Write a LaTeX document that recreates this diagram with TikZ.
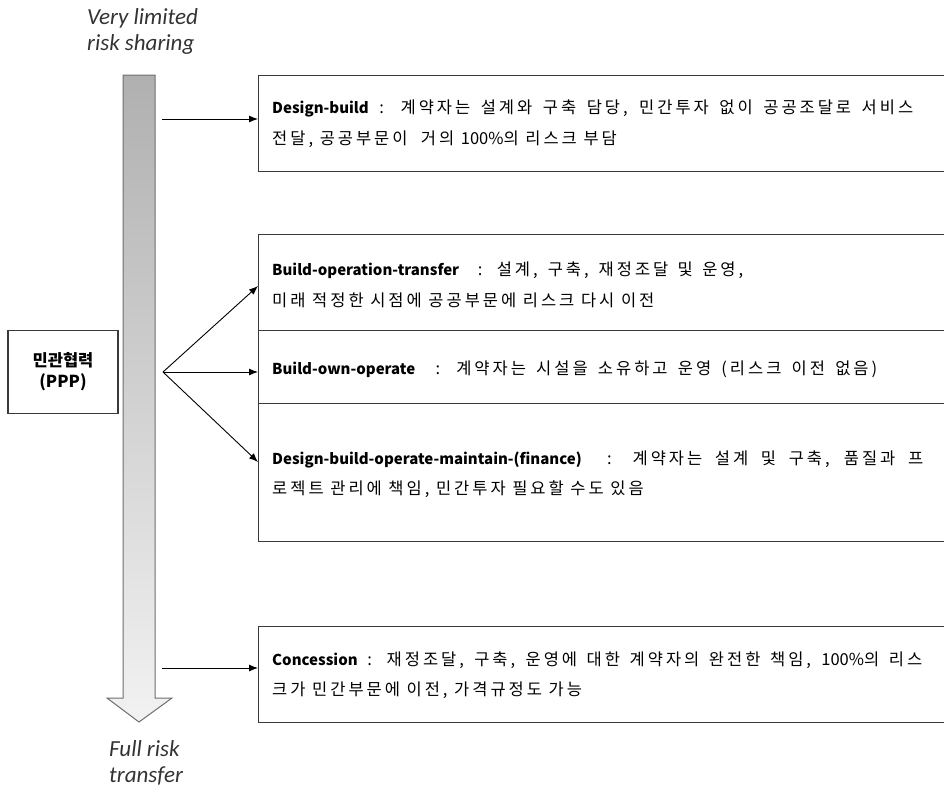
\documentclass[tikz,border=0pt]{standalone}
\usepackage{fontspec}
\setmainfont{Noto Sans CJK KR}[LetterSpace=18, BoldFeatures={LetterSpace=0}]
\newfontfamily\plainfont{Noto Sans CJK KR}
\newfontfamily\labfont{Carlito}
\usetikzlibrary{arrows.meta}
\newcommand\jline[2]{\makebox[#1pt][s]{#2}}
\newcommand\bt[1]{{\fontsize{15}{18}\selectfont\bfseries #1}}
\newcommand\pct{{\plainfont 100\%}}
\definecolor{boxline}{HTML}{3A3A3A}
\definecolor{shafttop}{HTML}{B0B0B0}
\definecolor{shaftbot}{HTML}{F2F2F2}
\definecolor{shaftline}{HTML}{6E6E6E}
\begin{document}
\begin{tikzpicture}[x=1pt,y=-1pt,
  box/.style={draw=boxline, line width=1.2pt, anchor=north west, inner sep=0pt, minimum width=720pt},
  conn/.style={draw=black, line width=0.9pt, -{Latex[length=9pt,width=7pt]}},
  txt/.style={anchor=west, inner sep=0pt, font=\fontsize{16.5}{19}\selectfont},
  side/.style={anchor=west, inner sep=0pt, align=left, font=\labfont\itshape\fontsize{23}{26}\selectfont, text=black!80}
]
\clip (0,0) rectangle (944,787);
% risk arrow
\shade[top color=shafttop, bottom color=shaftbot, draw=shaftline, line width=1pt]
  (123,75) -- (155,75) -- (155,698) -- (172,698) -- (139,722) -- (107,698) -- (123,698) -- cycle;
\node[side] (top) at (87,31) {Very limited\\risk sharing};
\node[side] (bot) at (109,763) {Full risk\\transfer};
% PPP box
\node[draw=boxline, line width=1.2pt, minimum width=110pt, minimum height=83pt, align=center,
  font=\bfseries\fontsize{16.5}{21}\selectfont] (ppp) at (63,372) {민관협력\\(PPP)};
% option boxes
\node[box, minimum height=96pt] (db) at (258,75) {};
\node[box, minimum height=96pt] (bot) at (258,234) {};
\node[box, minimum height=73pt] (boo) at (258,330) {};
\node[box, minimum height=138pt] (dbom) at (258,403) {};
\node[box, minimum height=96pt] (con) at (258,626) {};
% texts
\node[txt] (db1) at (272,108) {\jline{641}{\bt{Design-build} : 계약자는 설계와 구축 담당, 민간투자 없이 공공조달로 서비스}};
\node[txt] (db2) at (272,139) {전달, 공공부문이 \ 거의 \pct 의 리스크 부담};
\node[txt] (bot1) at (272,270) {\jline{471}{\bt{Build-operation-transfer} \ : 설계, 구축, 재정조달 및 운영,}};
\node[txt] (bot2) at (272,300) {미래 적정한 시점에 공공부문에 리스크 다시 이전};
\node[txt] (boo1) at (272,369) {\jline{605}{\bt{Build-own-operate} \ : 계약자는 시설을 소유하고 운영 (리스크 이전 없음)}};
\node[txt] (dbom1) at (272,459) {\jline{651}{\bt{Design-build-operate-maintain-(finance)} \ : 계약자는 설계 및 구축, 품질과 프}};
\node[txt] (dbom2) at (272,489) {로젝트 관리에 책임, 민간투자 필요할 수도 있음};
\node[txt] (con1) at (272,660) {\jline{650}{\bt{Concession} : 재정조달, 구축, 운영에 대한 계약자의 완전한 책임, \pct 의 리스}};
\node[txt] (con2) at (272,690) {크가 민간부문에 이전, 가격규정도 가능};
% connectors
\coordinate (dbout) at (162,119);
\coordinate (dbin) at (258,119);
\coordinate (conout) at (162,668);
\coordinate (conin) at (258,668);
\coordinate (bp) at (163,372);
\coordinate (botin) at (258,286);
\coordinate (booin) at (258,372);
\coordinate (dbomin) at (258,462);
\draw[conn] (dbout) -- (dbin);
\draw[conn] (conout) -- (conin);
\draw[conn] (bp) -- (botin);
\draw[conn] (bp) -- (booin);
\draw[conn] (bp) -- (dbomin);
\end{tikzpicture}
\end{document}
